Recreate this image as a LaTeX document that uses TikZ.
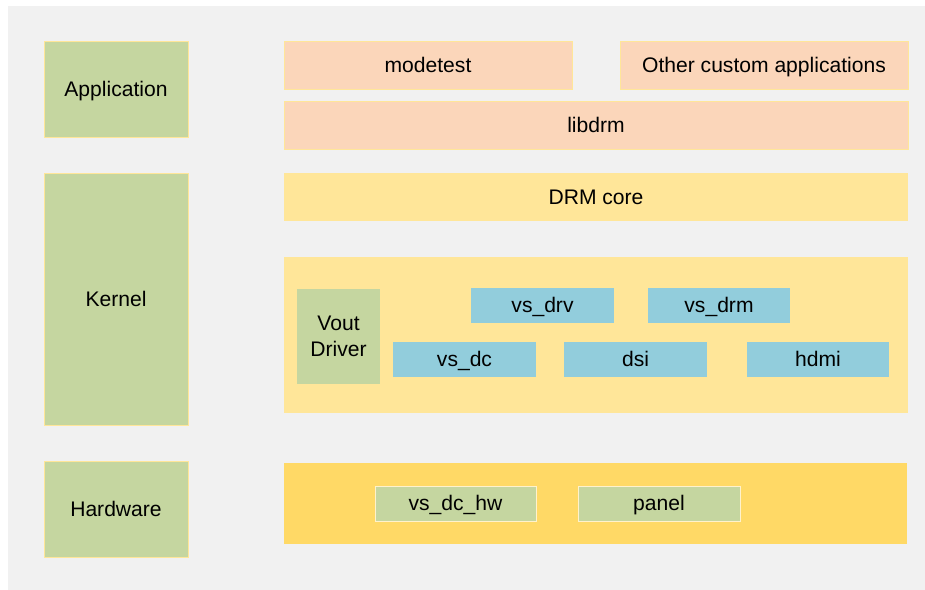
\documentclass[tikz,border=0pt]{standalone}
\usepackage{fontspec}
\setmainfont{Liberation Sans}
\definecolor{bggray}{HTML}{F1F1F1}
\definecolor{layergreen}{HTML}{C5D6A0}
\definecolor{userpeach}{HTML}{FBD6BA}
\definecolor{kernyellow}{HTML}{FFE699}
\definecolor{hwgold}{HTML}{FFD966}
\definecolor{modblue}{HTML}{92CDDC}
\definecolor{edgecream}{HTML}{FFF2CC}
\tikzset{
  oneline/.style={text height=9pt, text depth=0.6pt},
  layerbox/.style={fill=layergreen, draw=kernyellow, line width=0.5pt},
  userbox/.style={oneline, fill=userpeach, draw=kernyellow, line width=0.5pt},
  kernbox/.style={oneline, fill=kernyellow},
  hwbox/.style={fill=hwgold},
  modbox/.style={oneline, fill=modblue, minimum height=0.7cm},
  partbox/.style={oneline, fill=layergreen, draw=edgecream, line width=0.5pt, minimum height=0.7cm}
}
\begin{document}
\begin{tikzpicture}[x=0.02cm, y=-0.02cm, font=\fontsize{12}{14.5}\selectfont,
    every node/.style={inner sep=0pt, outer sep=0pt}]
      \useasboundingbox (0,0) rectangle (925,590);
      % Background
      \fill[bggray] (8,6) rectangle (925,590);

      % Layer names on the left
      \node[layerbox, oneline, minimum width=2.88cm, minimum height=1.92cm] (app) at (116,89) {Application};
      \node[layerbox, oneline, minimum width=2.88cm, minimum height=5.04cm] (kernel) at (116,299) {Kernel};
      \node[layerbox, oneline, minimum width=2.88cm, minimum height=1.92cm] (hw) at (116,509) {Hardware};

      % User space
      \node[userbox, minimum width=5.76cm, minimum height=0.96cm] (modetest) at (428,65) {modetest};
      \node[userbox, minimum width=5.76cm, minimum height=0.96cm] (otherapps) at (764,65) {Other custom applications};
      \node[userbox, minimum width=12.48cm, minimum height=0.96cm] (libdrm) at (596,125) {libdrm};

      % Kernel space
      \node[kernbox, minimum width=12.48cm, minimum height=0.96cm] (drmcore) at (596,197) {DRM core};
      \node[kernbox, minimum width=12.48cm, minimum height=3.12cm] (voutarea) at (596,335) {};
      \node[layerbox, draw=none, minimum width=1.66cm, minimum height=1.9cm,
            align=center] (vout) at (338.5,336.5) {Vout\\Driver};
      \node[modbox, minimum width=2.86cm] (vsdrv) at (542.5,305.5) {vs\_drv};
      \node[modbox, minimum width=2.84cm] (vsdrm) at (719,305.5) {vs\_drm};
      \node[modbox, minimum width=2.86cm] (vsdc) at (464.5,359.5) {vs\_dc};
      \node[modbox, minimum width=2.86cm] (dsi) at (635.5,359.5) {dsi};
      \node[modbox, minimum width=2.84cm] (hdmi) at (818,359.5) {hdmi};

      % Hardware
      \node[hwbox, minimum width=12.46cm, minimum height=1.62cm] (hwarea) at (595.5,503.5) {};
      \node[partbox, minimum width=3.22cm] (vsdchw) at (455.5,503.5) {vs\_dc\_hw};
      \node[partbox, minimum width=3.24cm] (panel) at (659,503.5) {panel};
    \end{tikzpicture}
\end{document}
